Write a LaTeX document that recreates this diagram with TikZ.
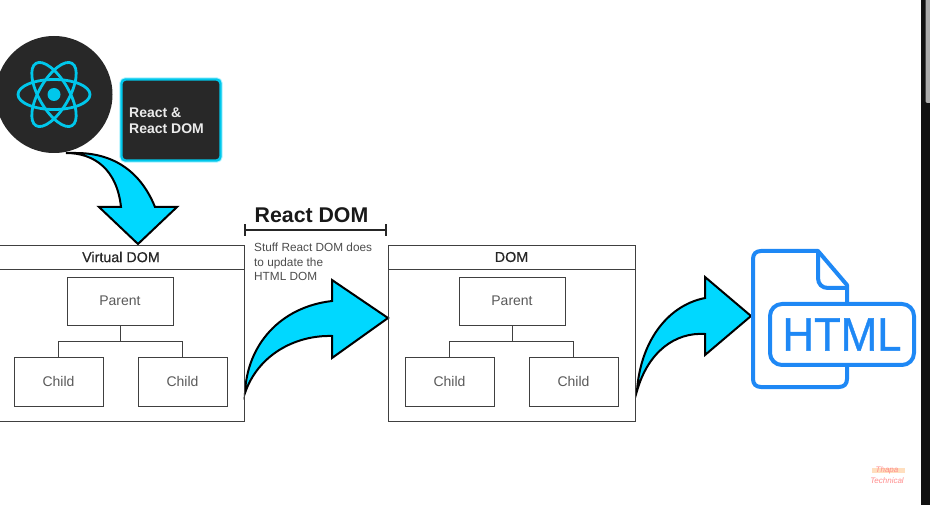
\documentclass[tikz,border=0pt]{standalone}
\usepackage{fontspec}
\setmainfont{Liberation Sans}
\usetikzlibrary{shapes}
\definecolor{reactcyan}{HTML}{00D8FF}
\definecolor{reactdark}{HTML}{282828}
\definecolor{htmlblue}{HTML}{1E88F5}
\definecolor{bargray}{HTML}{111111}
\tikzset{
  frame/.style={shape=rectangle,draw=black!75,line width=0.9pt,inner sep=0pt},
  headbox/.style={frame,minimum height=24pt,font=\fontsize{14.3}{16}\selectfont\addfontfeature{FakeBold=0.6},text=black!85},
  treebox/.style={frame,font=\fontsize{14}{16}\selectfont,text=black!65},
  treeline/.style={-,draw=black!75,line width=0.9pt},
  bigarrow/.style={draw=black,fill=reactcyan,line width=2pt,line join=miter},
  atom/.style={draw=reactcyan!92!black,line width=2.8pt},
  htmlline/.style={draw=htmlblue,line width=4pt,line join=round}
}
\begin{document}
\begin{tikzpicture}[x=1pt,y=-1pt]
\useasboundingbox (0,0) rectangle (930,505);
\clip (0,0) rectangle (930,505);
\node[shape=rectangle,fill=bargray,minimum width=9pt,minimum height=505pt,inner sep=0pt] (bar) at (925.5,252.5) {};
\node[shape=rectangle,fill=black!33,rounded corners=2pt,minimum width=7pt,minimum height=106pt,inner sep=0pt] (thumb) at (929,50) {};

\node[shape=circle,fill=reactdark,minimum size=117pt,inner sep=0pt] (logo) at (54,94.5) {};
\draw[atom] (logo.center) ellipse [x radius=36,y radius=15];
\draw[atom,rotate around={60:(logo.center)}] (logo.center) ellipse [x radius=36,y radius=15];
\draw[atom,rotate around={120:(logo.center)}] (logo.center) ellipse [x radius=36,y radius=15];
\fill[reactcyan!92!black] (logo.center) circle (6.5);

\node[shape=rectangle,draw=reactcyan!92!black,fill=reactdark,rounded corners=4pt,line width=2.4pt,preaction={draw=reactcyan!35,line width=4.4pt},minimum width=99pt,minimum height=81pt,inner sep=0pt] (tag) at (171,120) {};
\node[anchor=west,align=left,text=white!92!black,inner sep=0pt,font=\bfseries\fontsize{14}{16}\selectfont] (taglabel) at (129,121) {React \&\\React DOM};

% arrows
\draw[bigarrow] (66,153) .. controls (95,153) and (117,170) .. (121,207) -- (99,207) -- (138,244) -- (177,207) -- (155,207) .. controls (140,170) and (112,153) .. (76,153) -- cycle;
\draw[bigarrow] (245,393) .. controls (247,345) and (280,307) .. (332,301) -- (332,280) -- (388,318) -- (332,358) -- (332,336) .. controls (295,335) and (258,355) .. cycle;
\draw[bigarrow] (637,391) .. controls (640,345) and (665,306) .. (705,298) -- (705,277) -- (751,316) -- (705,355) -- (705,334) .. controls (675,332) and (648,352) .. cycle;

% virtual dom
\node[headbox,minimum width=246pt] (vhead) at (121,257) {Virtual DOM};
\node[frame,minimum width=246pt,minimum height=152pt] (vbody) at (121,345) {};
\node[treebox,minimum width=106pt,minimum height=48pt] (vparent) at (120,301) {Parent};
\node[treebox,minimum width=89pt,minimum height=49pt] (vchild1) at (58.5,381.5) {Child};
\node[treebox,minimum width=89pt,minimum height=49pt] (vchild2) at (182.5,381.5) {Child};
\draw[treeline] (vparent.south) -- ++(0,16) -| (vchild1.north);
\draw[treeline] (vparent.south) -- ++(0,16) -| (vchild2.north);

% real dom
\node[headbox,minimum width=247pt] (dhead) at (511.5,257) {DOM};
\node[frame,minimum width=247pt,minimum height=152pt] (dbody) at (511.5,345) {};
\node[treebox,minimum width=106pt,minimum height=48pt] (dparent) at (512,301) {Parent};
\node[treebox,minimum width=89pt,minimum height=49pt] (dchild1) at (449.5,381.5) {Child};
\node[treebox,minimum width=89pt,minimum height=49pt] (dchild2) at (573.5,381.5) {Child};
\draw[treeline] (dparent.south) -- ++(0,16) -| (dchild1.north);
\draw[treeline] (dparent.south) -- ++(0,16) -| (dchild2.north);

% bracket
\node[inner sep=0pt,font=\bfseries\fontsize{21.3}{23}\selectfont,text=black!90] (title) at (311.5,215) {React DOM};
\coordinate (bl) at (244,230);
\coordinate (br) at (387,230);
\draw[|-|,draw=black!85,line width=1.8pt] (bl) -- (br);
\node[anchor=north west,align=left,inner sep=0pt,text=black!70,font=\fontsize{11.8}{14.5}\selectfont] (note) at (254,243) {Stuff React DOM does\\to update the\\HTML DOM};

% html file
\draw[htmlline] (847,302) -- (847,285) -- (818,251) -- (761,251) .. controls (756,251) and (753,254) .. (753,259) -- (753,379) .. controls (753,384) and (756,387) .. (761,387) -- (839,387) .. controls (844,387) and (847,384) .. (847,379) -- (847,367);
\draw[htmlline] (818,251) -- (818,278) .. controls (818,284) and (822,288) .. (828,288) -- (847,288);
\node[shape=rectangle,draw=htmlblue,line width=4pt,rounded corners=12pt,minimum width=144pt,minimum height=61pt,inner sep=0pt] (htmlbox) at (842,334.5) {};
\node[inner sep=0pt,text=htmlblue,xscale=.93,font=\fontsize{47}{50}\selectfont\addfontfeature{FakeBold=0.8}] (htmltext) at (842,334.5) {HTML};

% watermark
\fill[orange!25] (872,468) rectangle (905,473);
\node[inner sep=0pt,align=center,text=red!45,font=\itshape\fontsize{8}{11}\selectfont] (mark) at (887,475) {Thapa\\Technical};
\end{tikzpicture}
\end{document}
